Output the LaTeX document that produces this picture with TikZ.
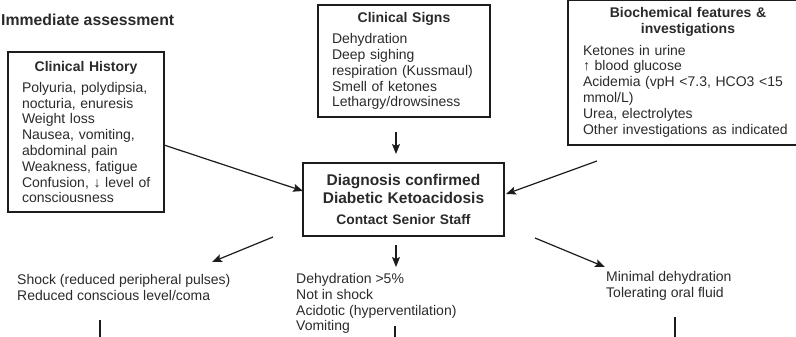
\documentclass[tikz,border=0pt]{standalone}
\usepackage{fontspec}
\setmainfont{Liberation Sans}
\usepackage{xcolor}
\usepackage{tikz}
\usetikzlibrary{calc,arrows.meta,positioning}
\definecolor{inkc}{HTML}{2A2A2A}
\definecolor{linec}{HTML}{1C1C1C}
\newcommand{\boxhead}[1]{{\centering\bfseries #1\par}\vspace{5.5pt}}
\tikzset{
  ar/.style={-{Stealth[length=10pt,width=8pt,inset=2pt]},line width=1.2pt,linec},
  ln/.style={line width=1.2pt,linec},
  box/.style={draw=linec,line width=1.6pt,align=left,inner ysep=6pt,outer sep=0pt,text=inkc,
    font=\fontsize{14}{15.8}\selectfont},
  txt/.style={align=left,inner sep=0pt,anchor=west,text=inkc,font=\fontsize{14}{15.8}\selectfont}
}
\begin{document}
\begin{tikzpicture}[x=1pt,y=-1pt]
\useasboundingbox (0,0) rectangle (796,337);
\clip (0,0) rectangle (796,337);
% heading
\node[anchor=west,inner sep=0pt,text=inkc,font=\fontsize{15.8}{19}\selectfont\bfseries] (head) at (1,20) {Immediate assessment};
% the three assessment boxes
\node[box,anchor=north west,text width=128pt,inner xsep=14pt,minimum height=160pt] (hist) at (8,52)
  {\boxhead{Clinical History}Polyuria, polydipsia,\\nocturia, enuresis\\Weight loss\\Nausea, vomiting,\\abdominal pain\\Weakness, fatigue\\\mbox{Confusion, ↓ level of}\\consciousness};
\node[box,anchor=north west,text width=144pt,inner xsep=14pt,minimum height=112pt] (signs) at (318,5)
  {\boxhead{Clinical Signs}Dehydration\\Deep sighing\\respiration (Kussmaul)\\Smell of ketones\\Lethargy/drowsiness};
\node[box,anchor=south west,text width=210pt,inner xsep=15pt,inner ysep=8pt] (biochem) at (568,145)
  {\boxhead{Biochemical features \&\\investigations}Ketones in urine\\↑ blood glucose\\Acidemia (vpH <7.3, HCO3 <15\\mmol/L)\\Urea, electrolytes\\Other investigations as indicated};
% diagnosis
\node[box,anchor=north west,align=center,text width=185pt,inner xsep=8pt,minimum height=73pt,font=\fontsize{13.8}{15.8}\selectfont\bfseries] (diag) at (303,163)
  {{\fontsize{15.5}{18}\selectfont Diagnosis confirmed\\Diabetic Ketoacidosis\par}\vspace{5pt}Contact Senior Staff};
% outcomes
\node[txt] (shock) at (17,287.5) {Shock (reduced peripheral pulses)\\Reduced conscious level/coma};
\node[txt] (dehyd) at (296,303.5) {Dehydration >5\%\\Not in shock\\Acidotic (hyperventilation)\\Vomiting};
\node[txt] (minimal) at (606,286) {Minimal dehydration\\Tolerating oral fluid};
% arrows
\draw[ar] ($(hist.east)+(0,13)$) -- ($(diag.west)+(0,-8.5)$);
\draw[ar] ($(signs.south)+(-8,15)$) -- ($(diag.north)+(-7.5,-9)$);
\draw[ar] ($(biochem.south west)+(29,16)$) -- ($(diag.east)+(2,-5.5)$);
\draw[ar] ($(diag.south west)+(-30,1)$) -- ($(shock.west)+(195,-25.5)$);
\draw[ar] ($(diag.south)+(-7.5,9)$) -- ($(dehyd.west)+(100,-36.5)$);
\draw[ar] ($(diag.south east)+(31,2)$) -- ($(minimal.west)+(-1,-19)$);
% lines running on below
\draw[ln] ($(shock.west)+(83,32.5)$) -- ++(0,25);
\draw[ln] ($(dehyd.west)+(99,22.5)$) -- ++(0,25);
\draw[ln] ($(minimal.west)+(69,31)$) -- ++(0,25);
\end{tikzpicture}
\end{document}
